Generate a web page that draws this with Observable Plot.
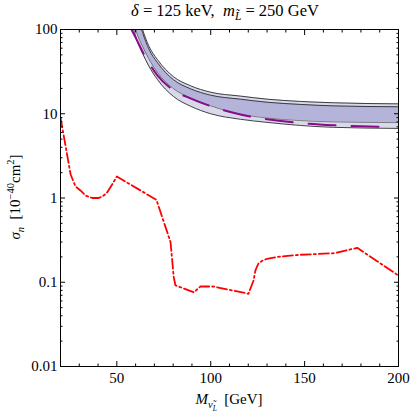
<!DOCTYPE html>
<html><head><meta charset="utf-8">
<script src="https://cdn.jsdelivr.net/npm/d3@7"></script>
<script src="https://cdn.jsdelivr.net/npm/@observablehq/plot@0.6"></script>
<style>
body{margin:0;background:#fff;}
#wrap{position:relative;width:411px;height:415px;font-family:"Liberation Serif","Times New Roman",serif;color:#000;overflow:hidden;}
#wrap svg text{font-family:"Liberation Serif","Times New Roman",serif;}
.ov{position:absolute;white-space:nowrap;line-height:1;}
sub,sup{font-size:70%;line-height:0;}
</style></head><body><div id="wrap"></div>
<script>
// Band (common mass grid, GeV) and its four boundary curves (10^-40 cm^2)
const bandM     = [58.9, 61, 63.7, 67, 71.6, 80.2, 89.2, 100, 115.8, 130, 147.8, 165.4, 200];
const upperOut  = [280, 160, 100, 64, 44, 27.5, 21.5, 18.0, 16.2, 14.9, 14.0, 13.5, 13.1];
const upperIn   = [258, 147, 92, 59, 40.5, 25.3, 19.8, 16.6, 14.9, 13.7, 12.9, 12.4, 12.1];
const lowerIn   = [118, 86, 63, 45, 31, 19.8, 15.4, 12.4, 9.9, 8.9, 8.3, 8.0, 7.85];
const lowerOut  = [100, 72, 52, 37, 25.5, 16.0, 12.3, 10.0, 8.6, 7.9, 7.26, 6.9, 6.7];

// Purple dashed curve
const purpleM = [57.8, 60, 64.2, 71.6, 80.2, 89.2, 100, 115.8, 130, 147.8, 165.4, 193];
const purpleV = [100, 80, 52, 28.5, 19.0, 15.2, 12.3, 9.8, 8.6, 7.75, 7.3, 7.0];

// Red dot-dashed curve
const redM = [20, 25.4, 28, 30.6, 33.3, 36.9, 40.4, 43, 44.9, 47.5, 50.0, 71.1, 78.6, 80.3, 81.2, 91, 94.5, 101.5, 120.1, 122.8, 123.8, 125.4, 127.5, 130, 135.4, 147.8, 165.4, 178, 200];
const redV = [9.0, 1.9, 1.37, 1.23, 1.07, 1.0, 1.0, 1.07, 1.17, 1.45, 1.8, 0.95, 0.30, 0.115, 0.092, 0.076, 0.089, 0.089, 0.073, 0.105, 0.138, 0.167, 0.18, 0.19, 0.2, 0.212, 0.221, 0.256, 0.12];

// Ticks
const xMajor = [50, 100, 150, 200];
const xMinor = [30, 40, 60, 70, 80, 90, 110, 120, 130, 140, 160, 170, 180, 190];
const yMajor = [0.01, 0.1, 1, 10, 100];
const yLabels = ["0.01", "0.1", "1", "10", "100"];
const yMinor = [];
for (const d of [0.01, 0.1, 1, 10]) for (const k of [2,3,4,5,6,7,8,9]) yMinor.push(+(d*k).toPrecision(3));

const band = bandM.map((M, i) => ({M, uo: upperOut[i], ui: upperIn[i], li: lowerIn[i], lo: lowerOut[i]}));
const purple = purpleM.map((M, i) => ({M, v: purpleV[i]}));
const red = redM.map((M, i) => ({M, v: redV[i]}));

const serif = "Liberation Serif";
const none = () => "";
const lineStyle = {x: "M", stroke: "#2a2a2a", strokeWidth: 0.9, curve: "monotone-x", clip: true};

const plot = Plot.plot({
  width: 411, height: 415,
  marginLeft: 60, marginRight: 13, marginTop: 29, marginBottom: 49,
  x: {domain: [20, 200]},
  y: {type: "log", domain: [0.01, 100]},
  style: "font-family: 'Liberation Serif', serif; font-size: 15px; background: white;",
  marks: [
    Plot.areaY(band, {x: "M", y1: "lo", y2: "uo", fill: "#d9d9ec", curve: "monotone-x", clip: true}),
    Plot.areaY(band, {x: "M", y1: "li", y2: "ui", fill: "#b4b4da", curve: "monotone-x", clip: true}),
    Plot.line(band, {...lineStyle, y: "uo"}),
    Plot.line(band, {...lineStyle, y: "ui"}),
    Plot.line(band, {...lineStyle, y: "li", stroke: "#555", strokeWidth: 0.7}),
    Plot.line(band, {...lineStyle, y: "lo"}),
    Plot.line(purple, {x: "M", y: "v", stroke: "#8a0a8a", strokeWidth: 2, strokeDasharray: "27,16", curve: "monotone-x", clip: true}),
    Plot.line(red, {x: "M", y: "v", stroke: "#ff0000", strokeWidth: 1.8, strokeDasharray: "10,3,2,3", clip: true}),
    Plot.frame({stroke: "black", strokeWidth: 1}),
    // bottom / top x ticks (inward)
    Plot.axisX({anchor: "bottom", ticks: xMajor, tickSize: 0, tickPadding: 6, tickFormat: d => String(d), label: null, fontFamily: serif, fontSize: 15}),
    Plot.axisX({anchor: "bottom", ticks: xMajor, tickSize: -5, tickFormat: none, label: null}),
    Plot.axisX({anchor: "bottom", ticks: xMinor, tickSize: -2.5, tickFormat: none, label: null}),
    Plot.axisX({anchor: "top", ticks: xMajor, tickSize: -5, tickFormat: none, label: null}),
    Plot.axisX({anchor: "top", ticks: xMinor, tickSize: -2.5, tickFormat: none, label: null}),
    // left / right y ticks (inward)
    Plot.axisY({anchor: "left", ticks: yMajor, tickSize: 0, tickPadding: 3, tickFormat: d => yLabels[yMajor.indexOf(d)], label: null, fontFamily: serif, fontSize: 15}),
    Plot.axisY({anchor: "left", ticks: yMajor, tickSize: -5, tickFormat: none, label: null}),
    Plot.axisY({anchor: "left", ticks: yMinor, tickSize: -2.5, tickFormat: none, label: null}),
    Plot.axisY({anchor: "right", ticks: yMajor, tickSize: -5, tickFormat: none, label: null}),
    Plot.axisY({anchor: "right", ticks: yMinor, tickSize: -2.5, tickFormat: none, label: null})
  ]
});

const wrap = document.getElementById("wrap");
wrap.appendChild(plot);

function overlay(html, style) {
  const d = document.createElement("div");
  d.className = "ov";
  d.innerHTML = html;
  Object.assign(d.style, style);
  wrap.appendChild(d);
}
overlay('<i>δ</i> = 125 keV,&nbsp; <i>m</i><sub><i>L&#771;</i></sub> = 250 GeV',
  {left: "225px", top: "3px", transform: "translateX(-50%)", fontSize: "16.5px"});
overlay('<i>M</i><sub><i>ν&#771;</i><sub><i>L</i></sub></sub>&nbsp; [GeV]',
  {left: "229px", top: "392px", transform: "translateX(-50%)", fontSize: "15px"});
overlay('<i>σ</i><sub><i>n</i></sub>&nbsp; [10<sup>−40</sup>cm<sup>2</sup>]',
  {left: "15px", top: "197px", transform: "translate(-50%,-50%) rotate(-90deg)", fontSize: "15px"});
</script>
</body></html>
